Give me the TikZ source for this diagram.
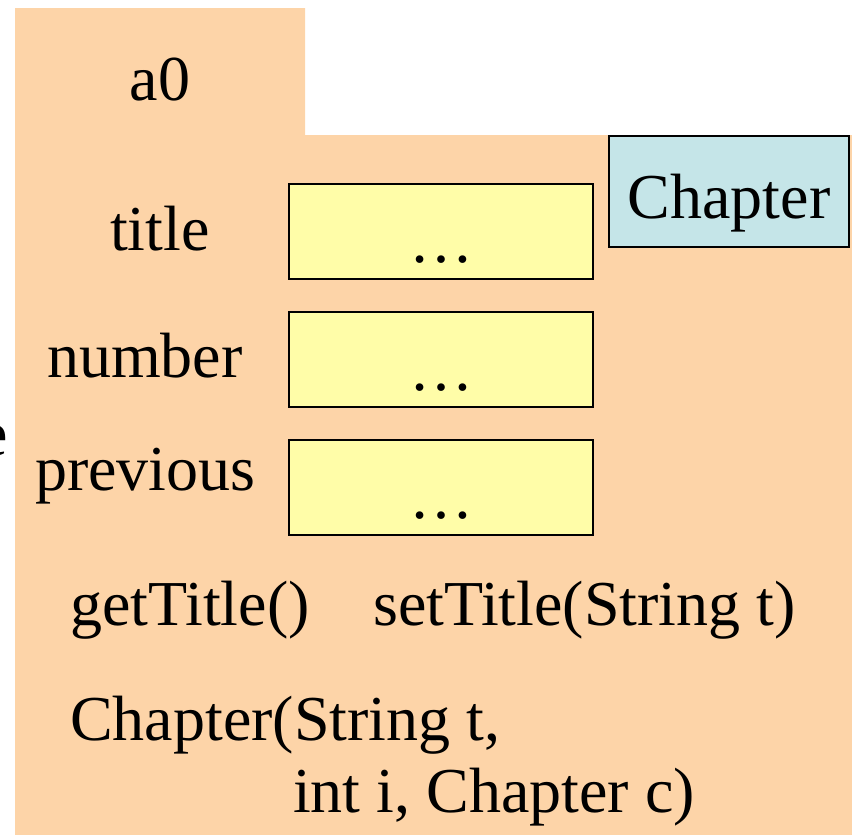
\documentclass[tikz,border=0pt]{standalone}
\usepackage{fontspec}
\setmainfont{Liberation Serif}
\definecolor{objpeach}{HTML}{FDD4A8}
\definecolor{fieldyellow}{HTML}{FFFDA8}
\definecolor{classblue}{HTML}{C5E5E8}
\tikzset{
  lbl/.style={font=\fontsize{64}{70}\selectfont, inner sep=0pt, anchor=base west},
  field/.style={draw=black, line width=2.2pt, fill=fieldyellow, minimum width=304pt, minimum height=95pt, inner sep=0pt},
  classbox/.style={draw=black, line width=2.2pt, fill=classblue, minimum width=240pt, minimum height=111pt, inner sep=0pt},
}
\begin{document}
\begin{tikzpicture}[x=1pt,y=-1pt]
\useasboundingbox (0,0) rectangle (852,835);
% object folder: tab plus body
\fill[objpeach] (15,8) -- (305,8) -- (305,135) -- (852,135) -- (852,835) -- (15,835) -- cycle;
% partly hidden letter at the left edge
\node[lbl, anchor=base east] (edge) at (8,455) {e};
% tab name
\node[lbl, anchor=base] (name) at (160,100) {a0};
% class name
\node[classbox] (cls) at (729,191.5) {};
\node[lbl, anchor=base] (clsname) at (729,218) {Chapter};
% fields
\node[field] (f1) at (441,231.5) {};
\node[field] (f2) at (441,359.5) {};
\node[field] (f3) at (441,487.5) {};
\node[lbl, anchor=base] (v1) at (f1.center |- 0,262) {\dots};
\node[lbl, anchor=base] (v2) at (f2.center |- 0,390) {\dots};
\node[lbl, anchor=base] (v3) at (f3.center |- 0,518) {\dots};
\node[lbl] (n1) at (110,250) {title};
\node[lbl] (n2) at (47,377) {number};
\node[lbl] (n3) at (35,490) {previous};
% methods
\node[lbl] (m1) at (70,625) {getTitle()};
\node[lbl] (m2) at (373,625) {setTitle(String t)};
\node[lbl] (c1) at (70,740) {Chapter(String t,};
\node[lbl] (c2) at (293,812) {int i, Chapter c)};
\end{tikzpicture}
\end{document}
